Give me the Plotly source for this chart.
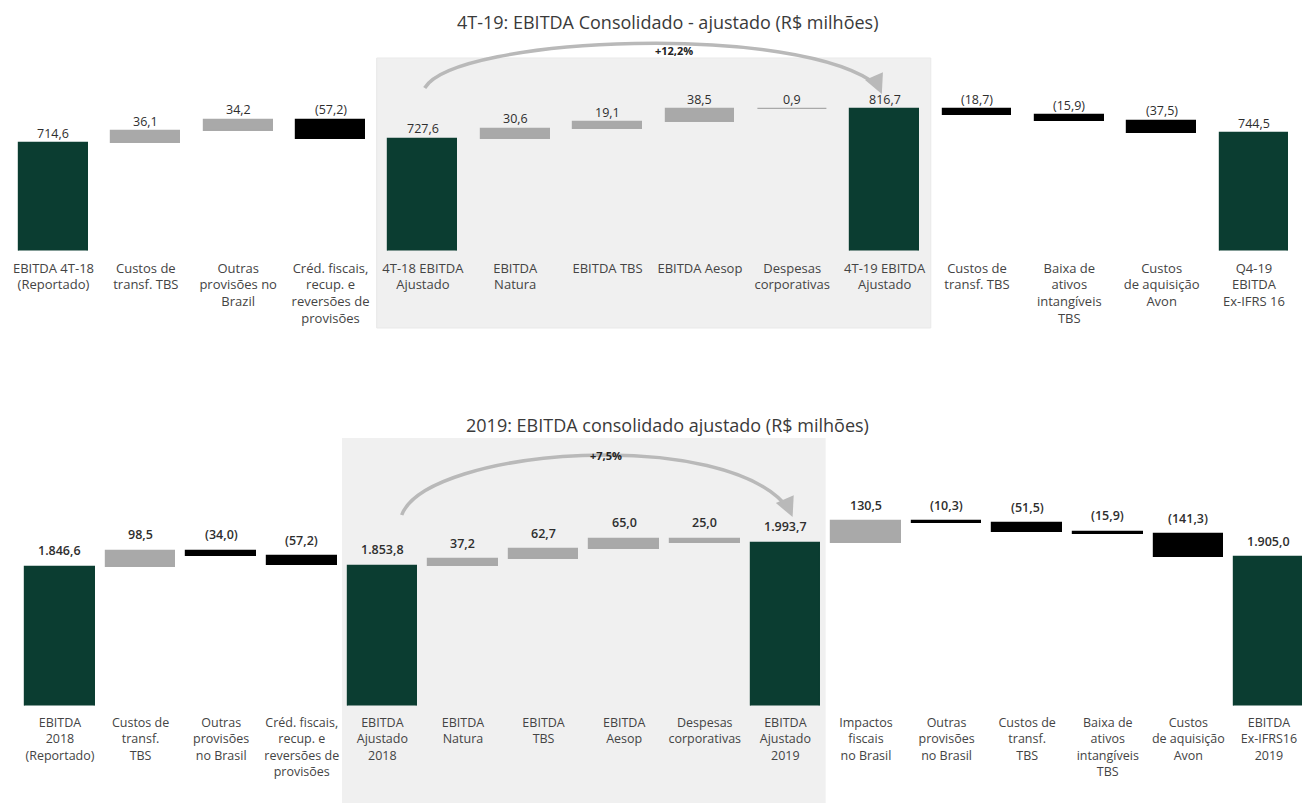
import plotly.graph_objects as go

# ---------------- data ----------------
top_title = "4T-19: EBITDA Consolidado - ajustado (R$ milhões)"
top_labels = [
    "EBITDA 4T-18<br>(Reportado)", "Custos de<br>transf. TBS", "Outras<br>provisões no<br>Brazil",
    "Créd. fiscais,<br>recup. e<br>reversões de<br>provisões", "4T-18 EBITDA<br>Ajustado",
    "EBITDA<br>Natura", "EBITDA TBS", "EBITDA Aesop", "Despesas<br>corporativas",
    "4T-19 EBITDA<br>Ajustado", "Custos de<br>transf. TBS", "Baixa de<br>ativos<br>intangíveis<br>TBS",
    "Custos<br>de aquisição<br>Avon", "Q4-19<br>EBITDA<br>Ex-IFRS 16",
]
top_values = [714.6, 36.1, 34.2, -57.2, 727.6, 30.6, 19.1, 38.5, 0.9, 816.7, -18.7, -15.9, -37.5, 744.5]
top_measures = ["absolute", "relative", "relative", "relative", "absolute", "relative", "relative",
                "relative", "relative", "absolute", "relative", "relative", "relative", "absolute"]
top_change = "+12,2%"

bot_title = "2019: EBITDA consolidado ajustado (R$ milhões)"
bot_labels = [
    "EBITDA<br>2018<br>(Reportado)", "Custos de<br>transf.<br>TBS", "Outras<br>provisões<br>no Brasil",
    "Créd. fiscais,<br>recup. e<br>reversões de<br>provisões", "EBITDA<br>Ajustado<br>2018",
    "EBITDA<br>Natura", "EBITDA<br>TBS", "EBITDA<br>Aesop", "Despesas<br>corporativas",
    "EBITDA<br>Ajustado<br>2019", "Impactos<br>fiscais<br>no Brasil", "Outras<br>provisões<br>no Brasil",
    "Custos de<br>transf.<br>TBS", "Baixa de<br>ativos<br>intangíveis<br>TBS", "Custos<br>de aquisição<br>Avon",
    "EBITDA<br>Ex-IFRS16<br>2019",
]
bot_values = [1846.6, 98.5, -34.0, -57.2, 1853.8, 37.2, 62.7, 65.0, -25.0, 1993.7, 130.5, -10.3, -51.5,
              -15.9, -141.3, 1905.0]
bot_measures = ["absolute", "relative", "relative", "relative", "absolute", "relative", "relative",
                "relative", "relative", "absolute", "relative", "relative", "relative", "relative",
                "relative", "absolute"]
bot_change = "+7,5%"

# highlighted section: between the two "adjusted" totals
top_section = (4, 9)
bot_section = (4, 9)

# ---------------- style ----------------
W, H = 1302, 803
GREEN = "#0b3d31"
GRAY = "#a9a9a9"
BLACK = "#000000"
BOX = "#f0f0f0"
ARC = "#b9b9b9"
TXT = "#3a3a3a"
FONT = "Open Sans"


def py(p):
    return 1 - p / H


def fmt(v, paren=True):
    s = f"{abs(v):,.1f}".replace(",", "X").replace(".", ",").replace("X", ".")
    return f"({s})" if (v < 0 and paren) else s


def build(values, measures, section):
    bases, heights, tops, colors, texts = [], [], [], [], []
    level = 0.0
    for i, (v, m) in enumerate(zip(values, measures)):
        if m == "absolute":
            base, level = 0.0, v
            colors.append(GREEN)
            texts.append(fmt(v))
            tops.append(v)
        else:
            base = level
            level = level + v
            inside = section[0] < i < section[1]
            colors.append(GRAY if (v > 0 or inside) else BLACK)
            texts.append(fmt(v, paren=not inside))
            tops.append(max(base, level))
        bases.append(base)
        heights.append(v)
    return bases, heights, tops, colors, texts


fig = go.Figure()
annotations = []
shapes = []

charts = [
    dict(labels=top_labels, values=top_values, measures=top_measures, section=top_section,
         title=top_title, change=top_change, xa="x", ya="y", xr=[-0.579, 13.52],
         yr=[392, 1114], dom=[py(250.5), py(10)], width=0.745, shift=10,
         title_y=22, box=(58, 328), label_w=400,
         arc=((4.02, 88), (4.35, 36), (8.1, 22), (8.93, 86)), head=(8.97, 94),
         chg=(6.72, 50)),
    dict(labels=bot_labels, values=bot_values, measures=bot_measures, section=bot_section,
         title=bot_title, change=bot_change, xa="x2", ya="y2", xr=[-0.744, 15.41],
         yr=[995, 2501], dom=[py(705.5), py(460)], width=0.865, shift=16,
         title_y=425, box=(438, 803), label_w=600,
         arc=((4.24, 515), (4.55, 448), (8.3, 425), (9.05, 510)), head=(9.09, 517),
         chg=(6.78, 455)),
]

for k, c in enumerate(charts):
    bases, heights, tops, colors, texts = build(c["values"], c["measures"], c["section"])
    n = len(c["values"])
    xs = list(range(n))
    fig.add_trace(go.Bar(
        x=xs, y=heights, base=bases, width=c["width"],
        marker=dict(color=colors, line=dict(color=colors, width=1.2)),
        xaxis=c["xa"], yaxis=c["ya"], showlegend=False, hoverinfo="skip",
    ))
    for i in xs:
        annotations.append(dict(
            x=i, y=tops[i], xref=c["xa"], yref=c["ya"], text=texts[i], showarrow=False,
            yanchor="middle", yshift=c["shift"],
            font=dict(family=FONT, size=12.5, color="#2e2e2e", weight=c["label_w"]),
        ))
    # title
    annotations.append(dict(
        x=0.513, y=py(c["title_y"]), xref="paper", yref="paper", text=c["title"],
        showarrow=False, xanchor="center", yanchor="middle",
        font=dict(family=FONT, size=18, color=TXT),
    ))
    # highlighted section box
    s0, s1 = c["section"]
    shapes.append(dict(
        type="rect", xref=c["xa"], yref="paper", x0=s0 - 0.5, x1=s1 + 0.5,
        y0=py(c["box"][1]), y1=py(c["box"][0]), fillcolor=BOX,
        line=dict(color="#e9e9e9", width=1 if k == 0 else 0), layer="below",
    ))
    # growth arc
    (a0, a1, a2, a3) = c["arc"]
    path = (f"M {a0[0]},{py(a0[1])} C {a1[0]},{py(a1[1])} {a2[0]},{py(a2[1])} "
            f"{a3[0]},{py(a3[1])}")
    shapes.append(dict(type="path", xref=c["xa"], yref="paper", path=path,
                       line=dict(color=ARC, width=3.5), layer="above"))
    annotations.append(dict(
        x=c["head"][0], y=py(c["head"][1]), xref=c["xa"], yref="paper", text="",
        showarrow=True, arrowhead=2, arrowsize=1.3, arrowwidth=3, arrowcolor=ARC,
        ax=-7, ay=-16,
    ))
    annotations.append(dict(
        x=c["chg"][0], y=py(c["chg"][1]), xref=c["xa"], yref="paper", text=c["change"],
        showarrow=False, xanchor="center", yanchor="middle",
        font=dict(family=FONT, size=11, color="#222222", weight=700),
    ))

axis_common = dict(showgrid=False, zeroline=False, showline=False, ticks="", ticklabelstandoff=8)
fig.update_layout(
    width=W, height=H, margin=dict(l=0, r=0, t=0, b=0),
    paper_bgcolor="white", plot_bgcolor="rgba(0,0,0,0)",
    bargap=0, barmode="overlay",
    xaxis=dict(domain=[0, 1], range=charts[0]["xr"], tickvals=list(range(len(top_labels))),
               ticktext=top_labels, tickfont=dict(family=FONT, size=13, color="#444444"),
               anchor="y", **axis_common),
    yaxis=dict(domain=charts[0]["dom"], range=charts[0]["yr"], visible=False, anchor="x"),
    xaxis2=dict(domain=[0, 1], range=charts[1]["xr"], tickvals=list(range(len(bot_labels))),
                ticktext=bot_labels, tickfont=dict(family=FONT, size=12.5, color="#444444"),
                anchor="y2", **axis_common),
    yaxis2=dict(domain=charts[1]["dom"], range=charts[1]["yr"], visible=False, anchor="x2"),
    annotations=annotations, shapes=shapes,
)

fig.write_html("out.html")
